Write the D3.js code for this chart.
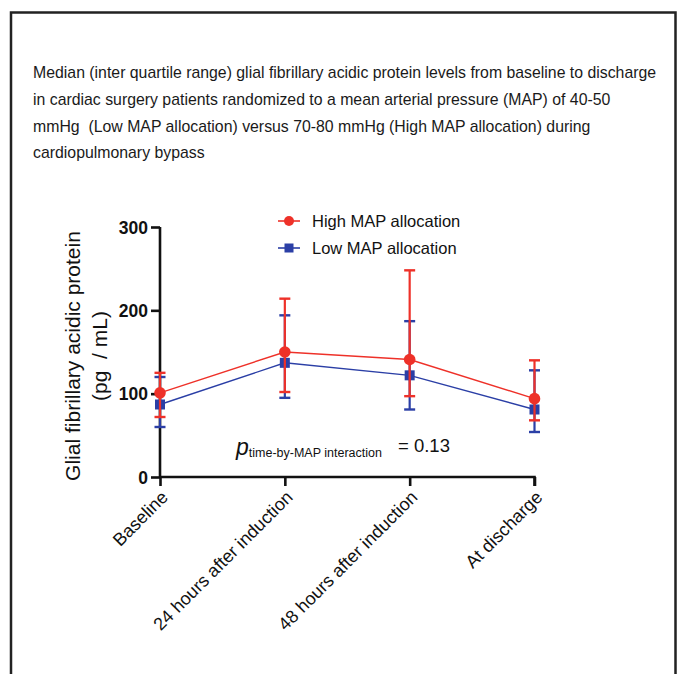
<!DOCTYPE html>
<html>
<head>
<meta charset="utf-8">
<script src="https://cdn.jsdelivr.net/npm/d3@7"></script>
<style>
  body { margin: 0; background: #fff; }
  svg { display: block; font-family: "Liberation Sans", Arial, sans-serif; }
</style>
</head>
<body>
<div id="chart"></div>
<script>
// data
var timepoints = ["Baseline", "24 hours after induction", "48 hours after induction", "At discharge"];
var highMedian = [101, 150, 141, 94];
var highQ1 = [72, 102, 97, 68];
var highQ3 = [125, 214, 248, 140];
var lowMedian = [87, 137, 122, 81];
var lowQ1 = [60, 95, 81, 54];
var lowQ3 = [120, 194, 187, 128];
var yTicks = [0, 100, 200, 300];
var titleLines = [
    "Median (inter quartile range) glial fibrillary acidic protein levels from baseline to discharge",
    "in cardiac surgery patients randomized to a mean arterial pressure (MAP) of 40-50",
    "mmHg  (Low MAP allocation) versus 70-80 mmHg (High MAP allocation) during",
    "cardiopulmonary bypass"
];

var RED = "#ee3129", BLUE = "#2b3fa6";

var svg = d3.select("#chart").append("svg")
    .attr("width", 679).attr("height", 674);

// frame
svg.append("path")
    .attr("d", "M11,674 V12.5 H675.5 V674")
    .attr("fill", "none").attr("stroke", "#222").attr("stroke-width", 2.5);

// caption text, squeezed to the width seen in the figure
var cap = svg.append("g");
var capText = cap.selectAll("text").data(titleLines).enter().append("text")
    .attr("y", function (d, i) { return 78 + i * 26.8; })
    .attr("font-size", 16)
    .attr("fill", "#1a1a1a")
    .attr("xml:space", "preserve")
    .text(function (d) { return d; });
var w0 = capText.node().getComputedTextLength();
cap.attr("transform", "translate(33,0) scale(" + (624 / w0) + ",1)");

// scales
var x = d3.scalePoint().domain(timepoints).range([160, 534.5]);
var y = d3.scaleLinear().domain([0, 300]).range([477, 227]);

// axes
var yAxis = svg.append("g").attr("transform", "translate(160,0)")
    .call(d3.axisLeft(y).tickValues(yTicks).tickSize(9).tickPadding(3));
var xAxis = svg.append("g").attr("transform", "translate(0,477)")
    .call(d3.axisBottom(x).tickSize(9).tickSizeOuter(0));

[yAxis, xAxis].forEach(function (a) {
    a.select(".domain").attr("stroke", "#111").attr("stroke-width", 2.6);
    a.selectAll(".tick line").attr("stroke", "#111").attr("stroke-width", 2.6);
});
yAxis.select(".domain").attr("d", "M0,477V227");
xAxis.select(".domain").attr("d", "M160,0H534.5V9");
yAxis.selectAll(".tick text")
    .attr("font-family", "'Liberation Sans', Arial, sans-serif")
    .attr("font-size", 17.5).attr("font-weight", "bold").attr("fill", "#111")
    .attr("dy", "0.36em");
xAxis.selectAll(".tick text")
    .attr("font-family", "'Liberation Sans', Arial, sans-serif")
    .attr("font-size", 18).attr("fill", "#111")
    .attr("text-anchor", "end")
    .attr("dy", "0.35em")
    .attr("transform", "translate(4,17) rotate(-45)")
    .attr("y", 0).attr("x", 0);

// y axis title
var yt = svg.append("text")
    .attr("transform", "translate(80,356) rotate(-90)")
    .attr("text-anchor", "middle")
    .attr("font-size", 21).attr("fill", "#111");
yt.append("tspan").attr("x", 0).attr("dy", 0).text("Glial fibrillary acidic protein");
yt.append("tspan").attr("x", 0).attr("dy", 27).attr("xml:space", "preserve").text("(pg  / mL)");

// series
var series = [
    { name: "Low MAP allocation", color: BLUE, med: lowMedian, lo: lowQ1, hi: lowQ3, shape: "square" },
    { name: "High MAP allocation", color: RED, med: highMedian, lo: highQ1, hi: highQ3, shape: "circle" }
];

var line = d3.line()
    .x(function (d) { return x(d.t); })
    .y(function (d) { return y(d.v); });

series.forEach(function (s) {
    var pts = timepoints.map(function (t, i) {
        return { t: t, v: s.med[i], lo: s.lo[i], hi: s.hi[i] };
    });
    var g = svg.append("g");
    g.append("path").datum(pts).attr("d", line)
        .attr("fill", "none").attr("stroke", s.color).attr("stroke-width", 1.4);

    var eb = g.selectAll(".eb").data(pts).enter().append("g");
    eb.append("line")
        .attr("x1", function (d) { return x(d.t); }).attr("x2", function (d) { return x(d.t); })
        .attr("y1", function (d) { return y(d.lo); }).attr("y2", function (d) { return y(d.hi); })
        .attr("stroke", s.color).attr("stroke-width", 2.2);
    ["lo", "hi"].forEach(function (k) {
        eb.append("line")
            .attr("x1", function (d) { return x(d.t) - 5.5; }).attr("x2", function (d) { return x(d.t) + 5.5; })
            .attr("y1", function (d) { return y(d[k]); }).attr("y2", function (d) { return y(d[k]); })
            .attr("stroke", s.color).attr("stroke-width", 2.4);
    });

    if (s.shape === "circle") {
        g.selectAll(".m").data(pts).enter().append("circle")
            .attr("cx", function (d) { return x(d.t); }).attr("cy", function (d) { return y(d.v); })
            .attr("r", 5.8).attr("fill", s.color);
    } else {
        g.selectAll(".m").data(pts).enter().append("rect")
            .attr("x", function (d) { return x(d.t) - 5; }).attr("y", function (d) { return y(d.v) - 5; })
            .attr("width", 10).attr("height", 10).attr("fill", s.color);
    }
});

// legend
var legend = svg.append("g");
series.slice().reverse().forEach(function (s, i) {
    var ly = 221 + i * 27;
    legend.append("line").attr("x1", 278).attr("x2", 300).attr("y1", ly).attr("y2", ly)
        .attr("stroke", s.color).attr("stroke-width", 1.6);
    if (s.shape === "circle") {
        legend.append("circle").attr("cx", 289).attr("cy", ly).attr("r", 5).attr("fill", s.color);
    } else {
        legend.append("rect").attr("x", 284.5).attr("y", ly - 4.5).attr("width", 9).attr("height", 9).attr("fill", s.color);
    }
    legend.append("text").attr("x", 312).attr("y", ly).attr("dy", "0.36em")
        .attr("font-size", 16.5).attr("fill", "#111").text(s.name);
});

// p value annotation
var pt = svg.append("text").attr("x", 236).attr("y", 455).attr("fill", "#111");
pt.append("tspan").attr("font-size", 23).attr("font-style", "italic").text("p");
pt.append("tspan").attr("font-size", 12.5).attr("dy", 2).text("time-by-MAP interaction");
svg.append("text").attr("x", 398).attr("y", 452).attr("font-size", 18.5).attr("fill", "#111")
    .text("= 0.13");
</script>
</body>
</html>
